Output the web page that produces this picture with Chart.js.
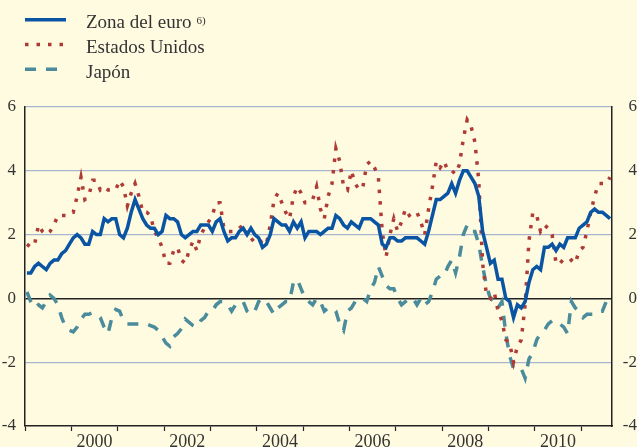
<!DOCTYPE html>
<html>
<head>
<meta charset="utf-8">
<script src="https://cdn.jsdelivr.net/npm/chart.js@4.4.1/dist/chart.umd.min.js"></script>
<style>
  html, body { margin: 0; padding: 0; background: #fffbe1; }
  #wrap { position: relative; width: 637px; height: 447px; }
</style>
</head>
<body>
<div id="wrap"><canvas id="chart" width="637" height="447"></canvas></div>
<script>
// Monthly year-on-year inflation (%), Jan 1999 onwards
const startYear = 1999;
const yearLabels = ['2000', '2002', '2004', '2006', '2008', '2010'];
const yTicks = [-4, -2, 0, 2, 4, 6];

const euro = [
  0.8, 0.8, 1.0, 1.1, 1.0, 0.9, 1.1, 1.2, 1.2, 1.4, 1.5, 1.7,
  1.9, 2.0, 1.9, 1.7, 1.7, 2.1, 2.0, 2.0, 2.5, 2.4, 2.5, 2.5,
  2.0, 1.9, 2.2, 2.7, 3.1, 2.8, 2.5, 2.3, 2.2, 2.2, 2.0, 2.1,
  2.6, 2.5, 2.5, 2.4, 2.0, 1.9, 2.0, 2.1, 2.1, 2.3, 2.3, 2.3,
  2.1, 2.4, 2.5, 2.1, 1.8, 1.9, 1.9, 2.1, 2.2, 2.0, 2.2, 2.0,
  1.9, 1.6, 1.7, 2.0, 2.5, 2.4, 2.3, 2.3, 2.1, 2.4, 2.2, 2.4,
  1.9, 2.1, 2.1, 2.1, 2.0, 2.1, 2.2, 2.2, 2.6, 2.5, 2.3, 2.2,
  2.4, 2.3, 2.2, 2.5, 2.5, 2.5, 2.4, 2.3, 1.7, 1.6, 1.9, 1.9,
  1.8, 1.8, 1.9, 1.9, 1.9, 1.9, 1.8, 1.7, 2.1, 2.6, 3.1, 3.1,
  3.2, 3.3, 3.6, 3.3, 3.7, 4.0, 4.0, 3.8, 3.6, 3.2, 2.1, 1.6,
  1.1, 1.2, 0.6, 0.6, 0.0, -0.1, -0.6, -0.2, -0.3, -0.1, 0.5, 0.9,
  1.0, 0.9, 1.6, 1.6, 1.7, 1.5, 1.7, 1.6, 1.9, 1.9, 1.9, 2.2,
  2.3, 2.4, 2.7, 2.8, 2.7, 2.7, 2.6, 2.5
];

const usa = [
  1.7, 1.6, 1.7, 2.3, 2.1, 2.0, 2.1, 2.3, 2.6, 2.6, 2.6, 2.7,
  2.7, 3.2, 3.8, 3.1, 3.2, 3.7, 3.7, 3.4, 3.5, 3.4, 3.4, 3.4,
  3.7, 3.5, 2.9, 3.3, 3.6, 3.2, 2.7, 2.7, 2.6, 2.1, 1.9, 1.6,
  1.1, 1.1, 1.5, 1.6, 1.2, 1.1, 1.5, 1.8, 1.5, 2.0, 2.2, 2.4,
  2.6, 3.0, 3.0, 2.2, 2.1, 2.1, 2.1, 2.2, 2.3, 2.0, 1.8, 1.9,
  1.9, 1.7, 1.7, 2.3, 3.1, 3.3, 3.0, 2.7, 2.5, 3.2, 3.5, 3.3,
  3.0, 3.0, 3.1, 3.5, 2.8, 2.5, 3.2, 3.6, 4.7, 4.3, 3.5, 3.4,
  4.0, 3.6, 3.4, 3.5, 4.2, 4.3, 4.1, 3.8, 2.1, 1.3, 2.0, 2.5,
  2.1, 2.4, 2.8, 2.6, 2.7, 2.7, 2.4, 2.0, 2.8, 3.5, 4.3, 4.1,
  4.3, 4.0, 4.0, 3.9, 4.2, 5.0, 5.6, 5.4, 4.9, 3.7, 1.1, 0.1,
  0.0, 0.2, -0.4, -0.7, -1.3, -1.4, -2.0, -1.5, -1.3, -0.2, 1.8, 2.7,
  2.6, 2.1, 2.3, 2.2, 2.0, 1.1, 1.2, 1.1, 1.1, 1.2, 1.1, 1.5,
  1.6, 2.1, 2.7, 3.2, 3.6, 3.6, 3.6, 3.8
];

const japan = [
  0.2, -0.1, -0.3, -0.2, -0.3, -0.1, 0.1, 0.0, -0.2, -0.6, -0.9, -1.0,
  -1.05, -0.9, -0.65, -0.5, -0.5, -0.45, -0.5, -0.6, -0.9, -1.1, -0.6, -0.35,
  -0.4, -0.7, -0.8, -0.8, -0.8, -0.8, -0.8, -0.8, -0.85, -0.9, -1.0, -1.2,
  -1.4, -1.5, -1.2, -1.1, -0.95, -0.65, -0.75, -0.85, -0.9, -0.7, -0.6, -0.4,
  -0.4, -0.2, -0.1, -0.1, -0.2, -0.4, -0.2, -0.1, -0.1, -0.4, -0.5, -0.4,
  -0.1, 0.0, -0.1, -0.3, -0.5, -0.3, -0.2, -0.1, -0.1, 0.5, 0.6, 0.3,
  0.0, -0.1, -0.2, 0.0, -0.1, -0.4, -0.3, -0.3, -0.4, -0.8, -1.0, -0.4,
  -0.3, -0.1, -0.1, 0.0, -0.1, 0.3, 0.5, 1.0, 0.7, 0.4, 0.3, 0.3,
  0.0, -0.2, -0.1, 0.0, 0.0, -0.2, 0.0, -0.2, -0.1, 0.2, 0.6, 0.7,
  0.7, 1.0, 1.2, 0.8, 1.3, 2.0, 2.3, 2.1, 2.1, 1.7, 1.0, 0.4,
  0.0, -0.1, -0.3, -0.1, -1.1, -1.8, -2.2, -2.2, -2.2, -2.5, -1.9, -1.7,
  -1.3, -1.1, -1.0, -0.8, -0.7, -0.7, -0.8, -0.9, -1.1, -0.1, -0.3, -0.4,
  -0.6, -0.5, -0.5, -0.5, -0.4, -0.4, -0.1, 0.1
];

const seriesNames = ['Zona del euro', 'Estados Unidos', 'Japón'];

const serif = '"Liberation Serif", "Times New Roman", serif';
const gridBlue = '#a7b4cf';
const axisBlack = '#222';

const toPoints = arr => arr.map((v, i) => ({ x: i, y: v }));

// legend in the top-left corner, drawn by hand so the dash styles show
const cornerLegend = {
  id: 'cornerLegend',
  afterDraw(chart) {
    const ctx = chart.ctx;
    ctx.save();
    chart.data.datasets.forEach((ds, i) => {
      const base = 28.3 + i * 24.7;
      const ly = base - 8.5;
      ctx.beginPath();
      ctx.setLineDash(ds.borderDash || []);
      ctx.lineWidth = ds.borderWidth;
      ctx.strokeStyle = ds.borderColor;
      ctx.moveTo(25, ly);
      ctx.lineTo(66, ly);
      ctx.stroke();
      ctx.setLineDash([]);
      ctx.fillStyle = '#333';
      ctx.font = '19px ' + serif;
      ctx.textBaseline = 'alphabetic';
      ctx.textAlign = 'left';
      ctx.fillText(ds.label, 86, base);
      if (i === 0) {
        const w = ctx.measureText(ds.label).width;
        ctx.font = '11px ' + serif;
        ctx.fillText('6)', 86 + w + 5, base - 4.5);
      }
    });
    ctx.restore();
  }
};

new Chart(document.getElementById('chart'), {
  type: 'line',
  data: {
    datasets: [
      {
        label: seriesNames[0],
        data: toPoints(euro),
        borderColor: '#0a55a3',
        borderWidth: 3.5,
        pointRadius: 0,
        tension: 0
      },
      {
        label: seriesNames[1],
        data: toPoints(usa),
        borderColor: '#ae3b36',
        borderWidth: 3.5,
        borderDash: [3.5, 8],
        pointRadius: 0,
        tension: 0
      },
      {
        label: seriesNames[2],
        data: toPoints(japan),
        borderColor: '#4b8c9c',
        borderWidth: 3.5,
        borderDash: [11, 10],
        pointRadius: 0,
        tension: 0
      }
    ]
  },
  options: {
    responsive: false,
    animation: false,
    layout: { padding: { top: 107, left: 0, right: 0, bottom: 0 } },
    plugins: { legend: { display: false }, tooltip: { enabled: false } },
    scales: {
      x: {
        type: 'linear',
        min: -0.5,
        max: euro.length - 0.5,
        afterBuildTicks: axis => {
          const ticks = [];
          const lastYear = startYear + Math.floor((euro.length - 1) / 12);
          for (let yr = startYear; yr <= lastYear; yr++) ticks.push({ value: (yr - startYear) * 12 - 0.5 });
          yearLabels.forEach(l => ticks.push({ value: (Number(l) - startYear) * 12 + 5.5 }));
          ticks.sort((a, b) => a.value - b.value);
          axis.ticks = ticks;
        },
        afterFit: s => { s.height = 21; },
        ticks: {
          autoSkip: false,
          maxRotation: 0,
          padding: 0,
          color: '#333',
          font: { family: serif, size: 18 },
          callback: v => {
            const m = v + 0.5;
            return m % 12 === 0 ? '' : String(startYear + Math.floor(m / 12));
          }
        },
        grid: {
          drawOnChartArea: false,
          tickLength: 5,
          tickWidth: 1.2,
          tickColor: c => ((c.tick.value + 0.5) % 12 === 0 ? axisBlack : 'rgba(0,0,0,0)')
        },
        border: { color: axisBlack, width: 1.5 }
      },
      y: {
        position: 'left',
        min: yTicks[0],
        max: yTicks[yTicks.length - 1],
        afterBuildTicks: axis => { axis.ticks = yTicks.map(v => ({ value: v })); },
        afterFit: s => { s.width = 25; },
        ticks: { color: '#333', padding: 9, font: { family: serif, size: 17 } },
        grid: {
          drawTicks: false,
          color: c => (c.tick.value === 0 ? axisBlack : c.tick.value === yTicks[0] ? 'rgba(0,0,0,0)' : gridBlue),
          lineWidth: c => (c.tick.value === 0 ? 1.5 : 1.2)
        },
        border: { color: axisBlack, width: 1.5 }
      },
      y2: {
        position: 'right',
        min: yTicks[0],
        max: yTicks[yTicks.length - 1],
        afterBuildTicks: axis => { axis.ticks = yTicks.map(v => ({ value: v })); },
        afterFit: s => { s.width = 25; },
        ticks: { color: '#333', crossAlign: 'far', padding: 0, font: { family: serif, size: 17 } },
        grid: { display: false, drawTicks: false },
        border: { color: axisBlack, width: 1.5 }
      }
    }
  },
  plugins: [cornerLegend]
});
</script>
</body>
</html>
